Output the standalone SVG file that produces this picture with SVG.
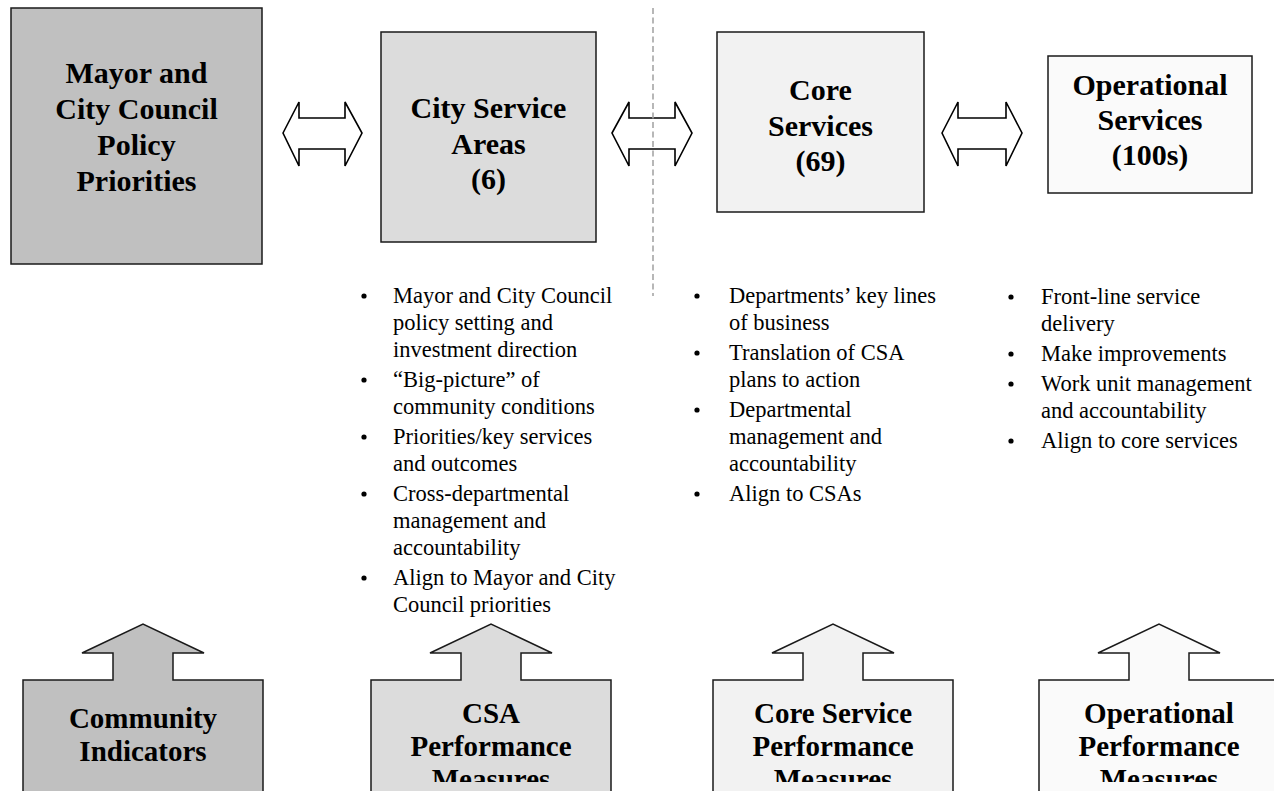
<svg xmlns="http://www.w3.org/2000/svg" width="1274" height="791" viewBox="0 0 1274 791">
<style>
  .box { stroke: #1a1a1a; stroke-width: 1.5; }
  .g1 { fill: #c0c0c0; }
  .g2 { fill: #dcdcdc; }
  .g3 { fill: #f2f2f2; }
  .g4 { fill: #fafafa; }
  .title { font-family: "Liberation Serif", "Times New Roman", serif; font-weight: bold; font-size: 30px; fill: #000; text-anchor: middle; }
  .sub { font-family: "Liberation Serif", "Times New Roman", serif; font-weight: bold; font-size: 29px; fill: #000; text-anchor: middle; }
  .bl { font-family: "Liberation Serif", "Times New Roman", serif; font-size: 22.5px; fill: #000; }
  .dot { fill: #000; }
  .darrow { fill: #fff; stroke: #000; stroke-width: 1.6; stroke-linejoin: miter; }
  .divider { stroke: #a6a6a6; stroke-width: 1.6; stroke-dasharray: 6 3.5; fill: none; }
</style>
<defs>
  <clipPath id="clipBottom"><rect x="0" y="600" width="1274" height="182"/></clipPath>
  <path id="upShape" d="M 23 800 L 23 680 L 113 680 L 113 653 L 82 653 L 143 624 L 204 653 L 173 653 L 173 680 L 263 680 L 263 800 Z"/>
</defs>

<g id="box-mayor">
  <rect class="box g1" x="11" y="8" width="251" height="256"/>
  <text class="title" x="136.5" y="83">Mayor and</text>
  <text class="title" x="136.5" y="119">City Council</text>
  <text class="title" x="136.5" y="155">Policy</text>
  <text class="title" x="136.5" y="191">Priorities</text>
</g>

<g id="box-csa">
  <rect class="box g2" x="381" y="32" width="215" height="210"/>
  <text class="title" x="488.5" y="118">City Service</text>
  <text class="title" x="488.5" y="154">Areas</text>
  <text class="title" x="488.5" y="189">(6)</text>
</g>

<g id="box-core">
  <rect class="box g3" x="717" y="32" width="207" height="180"/>
  <text class="title" x="820.5" y="100">Core</text>
  <text class="title" x="820.5" y="136">Services</text>
  <text class="title" x="820.5" y="171">(69)</text>
</g>

<g id="box-ops">
  <rect class="box g4" x="1048" y="56" width="204" height="137"/>
  <text class="title" x="1150" y="95">Operational</text>
  <text class="title" x="1150" y="130">Services</text>
  <text class="title" x="1150" y="165">(100s)</text>
</g>

<g id="connectors">
  <path class="darrow" d="M 283 133 L 299 102 L 299 118 L 345 118 L 345 102 L 362 133 L 345 166 L 345 149 L 299 149 L 299 166 Z"/>
  <path class="darrow" d="M 612 133 L 629 102 L 629 118 L 675 118 L 675 102 L 692 133 L 675 166 L 675 149 L 629 149 L 629 166 Z"/>
  <path class="darrow" d="M 942 133 L 958 102 L 958 118 L 1006 118 L 1006 102 L 1022 133 L 1006 166 L 1006 149 L 958 149 L 958 166 Z"/>
</g>

<g id="divider">
  <line class="divider" x1="653" y1="8" x2="653" y2="296"/>
</g>

<g id="bullets-csa">
  <circle class="dot" cx="364" cy="296" r="2.6"/>
  <circle class="dot" cx="364" cy="380" r="2.6"/>
  <circle class="dot" cx="364" cy="437" r="2.6"/>
  <circle class="dot" cx="364" cy="494" r="2.6"/>
  <circle class="dot" cx="364" cy="578" r="2.6"/>
  <text class="bl" x="393" y="303">Mayor and City Council</text>
  <text class="bl" x="393" y="330">policy setting and</text>
  <text class="bl" x="393" y="357">investment direction</text>
  <text class="bl" x="393" y="387">“Big-picture” of</text>
  <text class="bl" x="393" y="414">community conditions</text>
  <text class="bl" x="393" y="444">Priorities/key services</text>
  <text class="bl" x="393" y="471">and outcomes</text>
  <text class="bl" x="393" y="501">Cross-departmental</text>
  <text class="bl" x="393" y="528">management and</text>
  <text class="bl" x="393" y="555">accountability</text>
  <text class="bl" x="393" y="585">Align to Mayor and City</text>
  <text class="bl" x="393" y="612">Council priorities</text>
</g>

<g id="bullets-core">
  <circle class="dot" cx="697" cy="296" r="2.6"/>
  <circle class="dot" cx="697" cy="353" r="2.6"/>
  <circle class="dot" cx="697" cy="410" r="2.6"/>
  <circle class="dot" cx="697" cy="494" r="2.6"/>
  <text class="bl" x="729" y="303">Departments’ key lines</text>
  <text class="bl" x="729" y="330">of business</text>
  <text class="bl" x="729" y="360">Translation of CSA</text>
  <text class="bl" x="729" y="387">plans to action</text>
  <text class="bl" x="729" y="417">Departmental</text>
  <text class="bl" x="729" y="444">management and</text>
  <text class="bl" x="729" y="471">accountability</text>
  <text class="bl" x="729" y="501">Align to CSAs</text>
</g>

<g id="bullets-ops">
  <circle class="dot" cx="1011" cy="297" r="2.6"/>
  <circle class="dot" cx="1011" cy="354" r="2.6"/>
  <circle class="dot" cx="1011" cy="384" r="2.6"/>
  <circle class="dot" cx="1011" cy="441" r="2.6"/>
  <text class="bl" x="1041" y="304">Front-line service</text>
  <text class="bl" x="1041" y="331">delivery</text>
  <text class="bl" x="1041" y="361">Make improvements</text>
  <text class="bl" x="1041" y="391">Work unit management</text>
  <text class="bl" x="1041" y="418">and accountability</text>
  <text class="bl" x="1041" y="448">Align to core services</text>
</g>

<g id="community-indicators">
  <use href="#upShape" class="box g1"/>
  <g clip-path="url(#clipBottom)">
    <text class="sub" x="143" y="728">Community</text>
    <text class="sub" x="143" y="761">Indicators</text>
  </g>
</g>

<g id="csa-measures">
  <use href="#upShape" class="box g2" transform="translate(348,0)"/>
  <g clip-path="url(#clipBottom)">
    <text class="sub" x="491" y="723">CSA</text>
    <text class="sub" x="491" y="756">Performance</text>
    <text class="sub" x="491" y="789">Measures</text>
  </g>
</g>

<g id="core-measures">
  <use href="#upShape" class="box g3" transform="translate(690,0)"/>
  <g clip-path="url(#clipBottom)">
    <text class="sub" x="833" y="723">Core Service</text>
    <text class="sub" x="833" y="756">Performance</text>
    <text class="sub" x="833" y="789">Measures</text>
  </g>
</g>

<g id="ops-measures">
  <use href="#upShape" class="box g4" transform="translate(1016,0)"/>
  <g clip-path="url(#clipBottom)">
    <text class="sub" x="1159" y="723">Operational</text>
    <text class="sub" x="1159" y="756">Performance</text>
    <text class="sub" x="1159" y="789">Measures</text>
  </g>
</g>
</svg>
